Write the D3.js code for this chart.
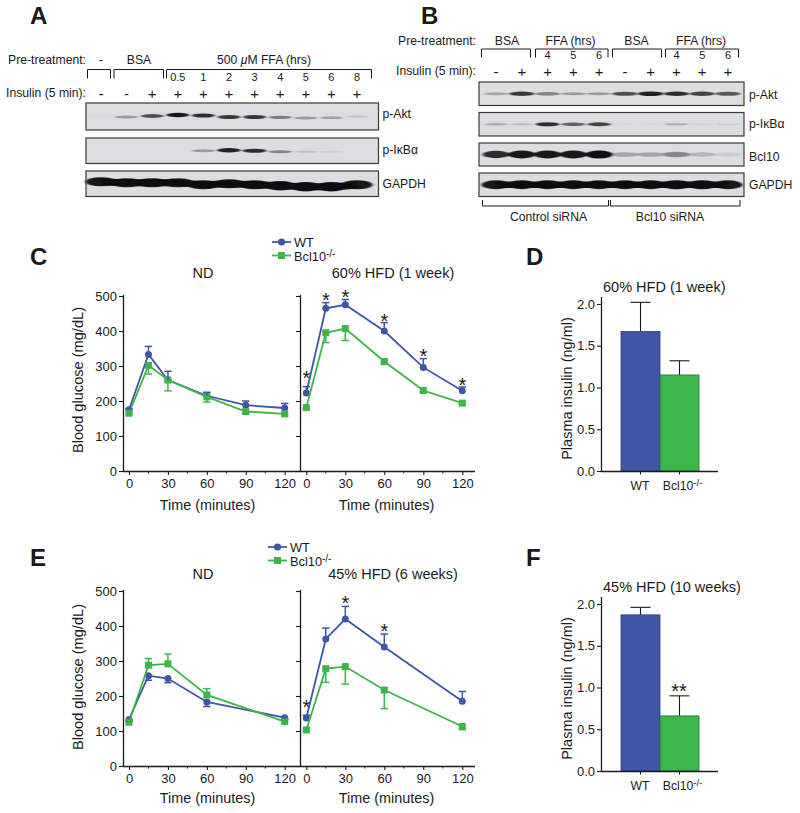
<!DOCTYPE html>
<html><head><meta charset="utf-8">
<script src="https://cdn.jsdelivr.net/npm/d3@7"></script>
<style>html,body{margin:0;padding:0;background:#fff}svg{display:block}text{font-family:"Liberation Sans",Arial,sans-serif;fill:#1a1a1a}</style>
</head><body><svg id="c" width="800" height="813"></svg>
<script>
// ---- Time-course data ----
const timesFull=[0,15,30,60,90,120];
const timesE=[0,15,30,60,120];
const cNdWt=[175,333,260,215,188,180], cNdWtEnd=[178,356,285,225,200,193];
const cNdKo=[165,302,260,212,170,163], cNdKoEnd=[162,277,229,197,166,158];
const cHfdWt=[223,465,475,400,296,229], cHfdWtEnd=[241,481,490,424,321,240];
const cHfdKo=[181,395,407,313,230,194], cHfdKoEnd=[177,367,373,306,226,190];
const eNdWt=[133,258,250,183,138], eNdWtEnd=[128,245,238,170,133];
const eNdKo=[125,288,292,203,127], eNdKoEnd=[130,307,320,221,133];
const eHfdWt=[137,363,420,340,185], eHfdWtEnd=[145,394,456,377,213];
const eHfdKo=[103,278,284,217,113], eHfdKoEnd=[99,239,234,164,104];
const cHfdStars=[[0,277],[15,502],[30,511],[60,442],[90,340],[120,258]];
const eHfdStars=[[0,182],[30,477],[60,398]];
// ---- Bar data ----
const barGroups=["WT","Bcl10"];
const dBars=[1.67,1.15], dErr=[2.02,1.32];
const fBars=[1.87,0.66], fErr=[1.96,0.90];
// ---- Blot band intensities ----
const aAkt=[.02,.35,.7,.95,.85,.8,.8,.5,.35,.28,.12];
const aAktShift=[0,.5,-.5,-1.5,-1,.5,.5,.8,1.5,1.2,0];
const aIkb=[0,0,0,0,.3,.9,.85,.45,.12,.06,0];
const aIkbShift=[0,0,0,0,0,-.5,0,1,1,1,0];
const aGapdh=[.95,.95,.95,.9,.95,.95,.95,1,1,1,.95];
const aGapdhShift=[-2,-1,-1,-1,1,0,1,2,3,3,1];
const bAkt=[.25,.8,.45,.3,.3,.7,.9,.85,.75,.65];
const bIkb=[.22,.15,.85,.6,.75,.02,.02,.2,.05,.08];
const bBcl=[.85,.95,.95,.95,1,.25,.25,.4,.18,.08];
const bGapdh=[.95,.95,.95,.95,.95,.95,.95,1,1,.95];
const rowsALabels=["p-Akt","p-I\u03baB\u03b1","GAPDH"];
const rowsBLabels=["p-Akt","p-I\u03baB\u03b1","Bcl10","GAPDH"];
const aHours=["0.5","1","2","3","4","5","6","8"];
const aInsulin=["-","-","+","+","+","+","+","+","+","+","+"];
const bHours=["4","5","6"];
const bInsulin=["-","+","+","+","+","-","+","+","+","+"];

const BLUE="#3f56a6",GREEN="#3db54a",INK="#1a1a1a";
const svg=d3.select("#c");
const defs=svg.append("defs");
defs.append("filter").attr("id","bl").attr("x","-10%").attr("y","-60%").attr("width","120%").attr("height","220%")
  .append("feGaussianBlur").attr("stdDeviation","1.4 0.7");
const T=(x,y,s,o={})=>{const t=svg.append("text").attr("x",x).attr("y",y).attr("font-size",o.size||12.2)
   .attr("text-anchor",o.anchor||"start").attr("font-weight",o.bold?"bold":null).text(s);
   if(o.rot)t.attr("transform",`rotate(-90 ${x} ${y})`);return t;};
const L=(x1,y1,x2,y2,w=1.2,c=INK)=>svg.append("line").attr("x1",x1).attr("y1",y1).attr("x2",x2).attr("y2",y2).attr("stroke",c).attr("stroke-width",w);

// panel letters
[["A",30,24],["B",421,24],["C",30,265],["D",526,265],["E",30,566],["F",526,566]].forEach(d=>T(d[1],d[2],d[0],{size:24,bold:true}));

// blots
function blot(x0,x1,y0,y1,vals,xs,thick,bw,shift,joined){
  svg.append("rect").attr("x",x0).attr("y",y0).attr("width",x1-x0).attr("height",y1-y0).attr("fill","#dcdddf");
  const g=svg.append("g").attr("filter","url(#bl)");
  const cy=(y0+y1)/2;
  if(joined){
    const ln=d3.line().x((d,i)=>xs(i)).y((d,i)=>cy+(shift?shift[i]:0)).curve(d3.curveMonotoneX);
    g.append("path").attr("d",ln(vals)).attr("fill","none").attr("stroke","#101012").attr("stroke-width",thick*0.72);
  }
  g.selectAll("ellipse").data(vals).join("ellipse")
    .attr("cx",(d,i)=>xs(i)).attr("rx",bw/2)
    .attr("cy",(d,i)=>cy+(shift?shift[i]:0)).attr("ry",d=>thick*(0.45+0.55*d)/2)
    .attr("fill","#101012").attr("opacity",d=>Math.min(1,d));
  svg.append("rect").attr("x",x0).attr("y",y0).attr("width",x1-x0).attr("height",y1-y0).attr("fill","none").attr("stroke","#3a3a3a").attr("stroke-width",1.2);
}
const xa=d3.scaleLinear().domain([0,10]).range([101,357]);
blot(86,378.5,103,130,aAkt,xa,4.5,23,aAktShift);
blot(86,378.5,138,163.5,aIkb,xa,4.5,24,aIkbShift);
blot(86,378.5,171,196.5,aGapdh,xa,9.5,31,aGapdhShift,true);
const xb=d3.scaleLinear().domain([0,9]).range([496,728]);
blot(479,744,82,105.5,bAkt,xb,5,25);
blot(479,744,112.5,136,bIkb,xb,4.5,24);
blot(479,744,143,166,bBcl,xb,8,27);
blot(479,744,173,196.5,bGapdh,xb,9,29,null,true);

function bracket(x0,x1,yTop,yEnd){svg.append("path").attr("d",`M${x0},${yEnd}V${yTop}H${x1}V${yEnd}`).attr("fill","none").attr("stroke",INK).attr("stroke-width",1);}
[[87.5,110.5],[114,163.5],[166.5,371.5]].forEach(b=>bracket(b[0],b[1],69.5,78.5));
[[481.5,530.5],[535.5,608],[612.5,661.5],[665.5,738.5]].forEach(b=>bracket(b[0],b[1],49,57.5));
[[482.5,608.5],[610.5,740]].forEach(b=>bracket(b[0],b[1],206,200));

// blot A labels
T(86,64,"Pre-treatment:",{anchor:"end"});T(86,97,"Insulin (5 min):",{anchor:"end"});
T(101,64,"-",{anchor:"middle",size:13});T(139,64,"BSA",{anchor:"middle"});
const ffa=T(264,64,"500 ",{anchor:"middle"});ffa.append("tspan").attr("font-style","italic").text("\u03bc");ffa.append("tspan").text("M FFA (hrs)");
aHours.forEach((h,i)=>T(xa(i+3),81,h,{anchor:"middle",size:11}));
aInsulin.forEach((s,i)=>T(xa(i),99,s,{anchor:"middle",size:15}));
[118,154,187.5].forEach((y,i)=>T(382.5,y,rowsALabels[i]));
// blot B labels
T(476,44.5,"Pre-treatment:",{anchor:"end"});T(476,75,"Insulin (5 min):",{anchor:"end"});
[["BSA",507],["FFA (hrs)",570.5],["BSA",636.5],["FFA (hrs)",701]].forEach(d=>T(d[1],44.5,d[0],{anchor:"middle"}));
bHours.forEach((h,i)=>{T(xb(i+2),59,h,{anchor:"middle",size:11});T(xb(i+7),59,h,{anchor:"middle",size:11});});
bInsulin.forEach((s,i)=>T(xb(i),76.5,s,{anchor:"middle",size:15}));
[98.5,128,160.5,188.5].forEach((y,i)=>T(749,y,rowsBLabels[i]));
T(548.5,221,"Control siRNA",{anchor:"middle"});T(670,221,"Bcl10 siRNA",{anchor:"middle"});

// line panels
function axisStyle(g){g.selectAll(".domain").attr("stroke",INK).attr("stroke-width",1.3);g.selectAll(".tick line").attr("stroke",INK).attr("stroke-width",1.1);g.selectAll("text").attr("font-family",'"Liberation Sans",Arial,sans-serif').attr("font-size",13).attr("fill",INK);}
function linePanel(o){
  const y=d3.scaleLinear().domain([0,500]).range([o.y0,o.y1]);
  const x=d3.scaleLinear().domain([0,120]).range([o.xa,o.xb]);
  const g=svg.append("g");
  const ya=d3.axisLeft(y).tickValues([0,100,200,300,400,500]).tickSize(4).tickPadding(2).tickSizeOuter(0);
  if(o.noY)ya.tickFormat("");
  const gy=g.append("g").attr("transform",`translate(${o.ax},0)`).call(ya);axisStyle(gy);
  const xa2=d3.axisBottom(x).tickValues(o.labels).tickSize(4).tickPadding(4).tickSizeOuter(0);
  const gx=g.append("g").attr("transform",`translate(0,${o.y0})`).call(xa2);axisStyle(gx);
  gx.select(".domain").attr("d",`M${o.ax},0.5H${o.xe}`);
  gy.select(".domain").attr("d",`M0.5,${o.y0}V${o.y1-1}`);
  g.selectAll(".minor").data([15,45,75,105]).join("line").attr("class","minor")
    .attr("x1",d=>x(d)).attr("x2",d=>x(d)).attr("y1",o.y0).attr("y2",o.y0+2.5).attr("stroke",INK).attr("stroke-width",1);
  const line=d3.line().x((d,i)=>x(o.t[i])).y(d=>y(d));
  [[o.wt,o.wtE,BLUE,"c"],[o.ko,o.koE,GREEN,"s"]].forEach(([v,e,c,m])=>{
    v.forEach((d,i)=>{const xx=x(o.t[i]);
      L(xx,y(d),xx,y(e[i]),1.5,c);L(xx-3.7,y(e[i]),xx+3.7,y(e[i]),1.5,c);});
    g.append("path").attr("d",line(v)).attr("fill","none").attr("stroke",c).attr("stroke-width",1.8);
    v.forEach((d,i)=>{const xx=x(o.t[i]);
      if(m=="c")g.append("circle").attr("cx",xx).attr("cy",y(d)).attr("r",3.5).attr("fill",c);
      else g.append("rect").attr("x",xx-3.5).attr("y",y(d)-3.5).attr("width",7).attr("height",7).attr("fill",c);});
  });
  (o.stars||[]).forEach(s=>T(x(s[0]),y(s[1])+11.4,"*",{anchor:"middle",size:20}));
}
linePanel({y0:471,y1:296,ax:123,xa:129,xb:284.7,xe:300,t:timesFull,labels:[0,30,60,90,120],wt:cNdWt,wtE:cNdWtEnd,ko:cNdKo,koE:cNdKoEnd});
linePanel({y0:471,y1:296,ax:300,xa:306.3,xb:462.3,xe:475,t:timesFull,labels:[0,30,60,90,120],wt:cHfdWt,wtE:cHfdWtEnd,ko:cHfdKo,koE:cHfdKoEnd,noY:true,stars:cHfdStars});
linePanel({y0:766,y1:591,ax:123,xa:129,xb:284.7,xe:300,t:timesE,labels:[0,30,60,90,120],wt:eNdWt,wtE:eNdWtEnd,ko:eNdKo,koE:eNdKoEnd});
linePanel({y0:766,y1:591,ax:300,xa:306.3,xb:462.3,xe:475,t:timesE,labels:[0,30,60,90,120],wt:eHfdWt,wtE:eHfdWtEnd,ko:eHfdKo,koE:eHfdKoEnd,noY:true,stars:eHfdStars});

[[278,510,"60% HFD (1 week)",393,235,242,272],[579,803,"45% HFD (6 weeks)",393,535,547,268]].forEach(([ty,xy,title,tx,_,ly,lx])=>{
  T(203,ty,"ND",{anchor:"middle",size:14.5});T(tx,ty,title,{anchor:"middle",size:14.5});
  T(207.5,xy,"Time (minutes)",{anchor:"middle",size:14.4});T(386.5,xy,"Time (minutes)",{anchor:"middle",size:14.4});
  T(83,xy==510?380:677,"Blood glucose (mg/dL)",{anchor:"middle",size:14.6,rot:true});
  L(lx,ly,lx+19,ly,1.8,BLUE);svg.append("circle").attr("cx",lx+9.5).attr("cy",ly).attr("r",3.6).attr("fill",BLUE);
  L(lx,ly+13.5,lx+19,ly+13.5,1.8,GREEN);svg.append("rect").attr("x",lx+6).attr("y",ly+10).attr("width",7).attr("height",7).attr("fill",GREEN);
  T(lx+22,ly+4.5,"WT",{size:12.8});
  const k=T(lx+22,ly+18.5,"Bcl10",{size:12.8});k.append("tspan").attr("dy",-4).attr("font-size",10).text("-/-");
});

// bar panels
function barPanel(o){
  const y=d3.scaleLinear().domain([0,2]).range([o.y0,o.y0-167]);
  const x=d3.scaleBand().domain(barGroups).range([621,699]).padding(0);
  const gy=svg.append("g").attr("transform","translate(601,0)").call(d3.axisLeft(y).tickValues([0,.5,1,1.5,2]).tickFormat(d3.format(".1f")).tickSize(4).tickPadding(2).tickSizeOuter(0));
  axisStyle(gy);gy.select(".domain").attr("d",`M0.5,${o.y0}V${o.y0-174}`);
  o.v.forEach((d,i)=>{const g=barGroups[i],cx=x(g)+x.bandwidth()/2;
    L(cx,y(d),cx,y(o.e[i]),1.1);L(cx-10,y(o.e[i]),cx+10,y(o.e[i]),1.1);
    svg.append("rect").attr("x",x(g)).attr("y",y(d)).attr("width",x.bandwidth()).attr("height",y(0)-y(d)).attr("fill",i?GREEN:BLUE).attr("stroke",i?"#2f6b3a":"#2f3f78").attr("stroke-width",.8);
  });
  const gx=svg.append("g").attr("transform",`translate(0,${o.y0})`).call(d3.axisBottom(x).tickSize(3.5).tickFormat("").tickSizeOuter(0));
  axisStyle(gx);gx.select(".domain").attr("d",`M601,0.5H718`);
  T(640,o.y0+19,"WT",{anchor:"middle",size:12.2});
  const k=T(682.5,o.y0+19,"Bcl10",{anchor:"middle",size:12.2});k.append("tspan").attr("dy",-4).attr("font-size",9.5).text("-/-");
  T(603,o.y0-179.5,o.title,{size:14.5});
  T(571.5,o.y0-82.5,"Plasma insulin (ng/ml)",{anchor:"middle",size:14.5,rot:true});
}
barPanel({y0:471,v:dBars,e:dErr,title:"60% HFD (1 week)"});
barPanel({y0:771,v:fBars,e:fErr,title:"45% HFD (10 weeks)"});
T(679,697.5,"**",{anchor:"middle",size:20});
</script></body></html>
